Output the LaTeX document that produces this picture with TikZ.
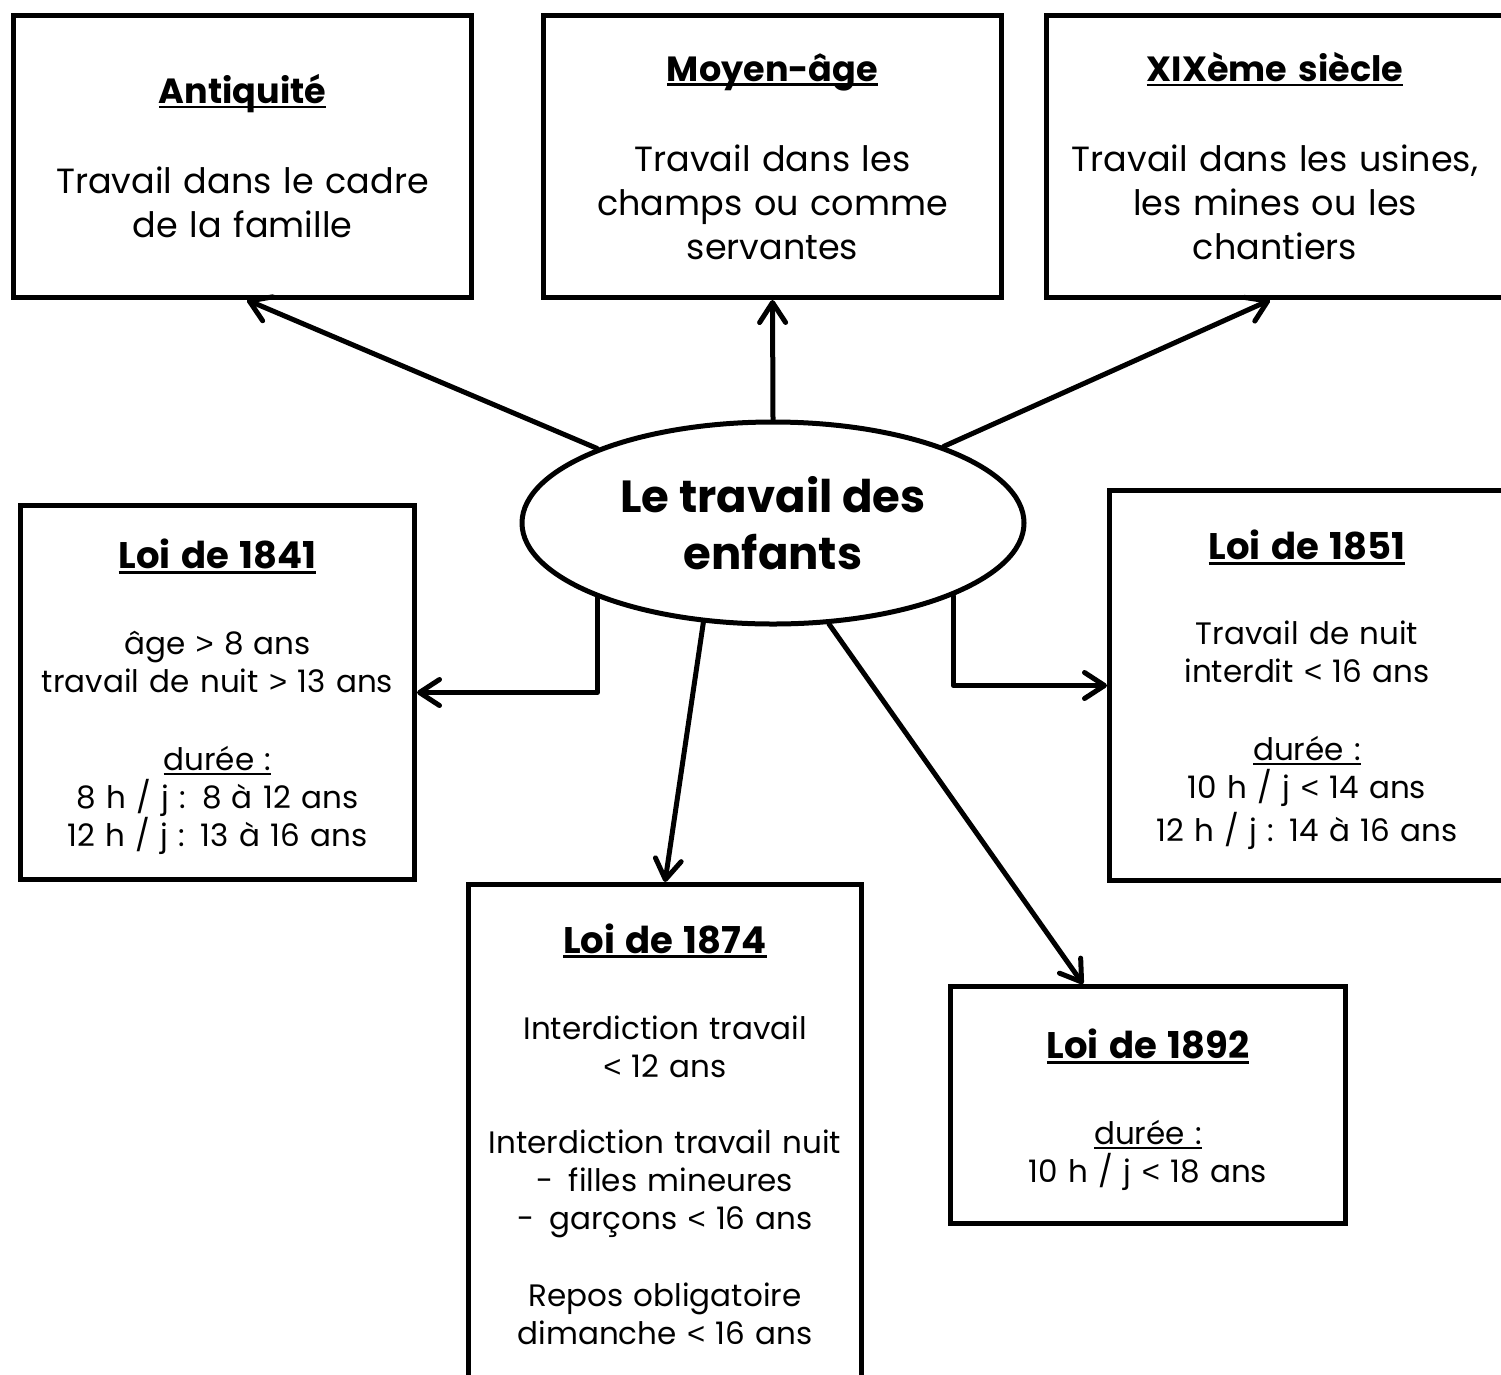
\documentclass[tikz,border=0pt]{standalone}
\usepackage{fontspec}
\setmainfont{Poppins}
\newfontfamily\symf{Liberation Sans}
\usetikzlibrary{arrows.meta,shapes.geometric,calc}
\newcommand\hdul[1]{\leavevmode\setbox0\hbox{#1}\rlap{\rule[-0.13em]{\wd0}{0.075em}}\box0}
\newcommand\rgul[1]{\leavevmode\setbox0\hbox{#1}\rlap{\rule[-0.13em]{\wd0}{0.055em}}\box0}
\newcommand\tophd[1]{\leavevmode{\bfseries\hdul{#1}}}
\newcommand\lawhd[1]{\leavevmode{\fontsize{37}{38}\bfseries\hdul{#1}}}
\newcommand\lt{{\symf <}}
\newcommand\gt{{\symf >}}
\begin{document}
\begin{tikzpicture}[x=1pt,y=-1pt,
  box/.style={draw, line width=5pt, rectangle, inner sep=0pt, align=center},
  topbox/.style={box, minimum width=458pt, minimum height=282pt, text width=448pt, font=\fontsize{35}{44}\selectfont},
  frame/.style={draw, line width=5pt, rectangle, inner sep=0pt},
  lawtxt/.style={inner sep=0pt, align=center, text width=385pt, font=\fontsize{31}{38}\selectfont},
  conn/.style={line width=5pt, line cap=round, line join=round, -{Straight Barb[length=20pt,width=26pt,round]}}
]
\useasboundingbox (0,0) rectangle (1501,1374);
\clip (0,0) rectangle (1501,1374);

\node[topbox] (ant) at (242.5,156.5) {\tophd{Antiquité}\\[46pt]Travail dans le cadre\\de la famille};
\node[topbox] (moy) at (772.5,156.5) {\tophd{Moyen-âge}\\[46pt]Travail dans les\\champs ou comme\\servantes};
\node[topbox] (xix) at (1275,156.5) {\tophd{XIXème siècle}\\[46pt]Travail dans les usines,\\les mines ou les\\chantiers};

\node[draw, line width=5pt, ellipse, inner sep=0pt, minimum width=502pt, minimum height=202pt, align=center,
  font=\fontsize{45}{57}\bfseries] (c) at (773,523) {Le travail des\\enfants};

\node[frame, minimum width=394pt, minimum height=374pt] (l41) at (217.5,692.5) {};
\node[lawtxt] (l41t) at (217.5,697)
  {\lawhd{Loi de 1841}\\[48pt]âge \gt{} 8 ans\\travail de nuit \gt{} 13 ans\\[40pt]\rgul{durée :}\\8 h / j : 8 à 12 ans\\12 h / j : 13 à 16 ans};
\node[frame, minimum width=395pt, minimum height=390pt] (l51) at (1307,685.5) {};
\node[lawtxt] (l51t) at (1307,690)
  {\lawhd{Loi de 1851}\\[47pt]Travail de nuit\\interdit \lt{} 16 ans\\[40pt]\rgul{durée :}\\10 h / j \lt{} 14 ans\\[5pt]12 h / j : 14 à 16 ans};
\node[frame, minimum width=393pt, minimum height=499pt] (l74) at (665,1134) {};
\node[lawtxt] (l74t) at (665,1134)
  {\lawhd{Loi de 1874}\\[48pt]Interdiction travail\\\lt{} 12 ans\\[38pt]Interdiction travail nuit\\-\hspace{15pt}filles mineures\\-\hspace{15pt}garçons \lt{} 16 ans\\[39pt]Repos obligatoire\\dimanche \lt{} 16 ans};
\node[frame, minimum width=395pt, minimum height=237pt] (l92) at (1148,1105) {};
\node[lawtxt] (l92t) at (1148,1110)
  {\lawhd{Loi de 1892}\\[48pt]\rgul{durée :}\\10 h / j \lt{} 18 ans};

\coordinate (antin) at ($(ant.south)+(4.5,0)$);
\coordinate (xixin) at ($(xix.south)+(-5,0)$);
\coordinate (l92in) at ($(l92.north)+(-65,0)$);

\draw[conn] (c) -- (antin);
\draw[conn] (c.north) -- (moy.south);
\draw[conn] (c) -- (xixin);
\draw[conn] (c.-157.2) |- (l41.east);
\draw[conn] (c.-22.8) |- (l51.west);
\draw[conn] (c.-125.8) -- (l74.north);
\draw[conn] (c.-61.3) -- (l92in);
\end{tikzpicture}
\end{document}
